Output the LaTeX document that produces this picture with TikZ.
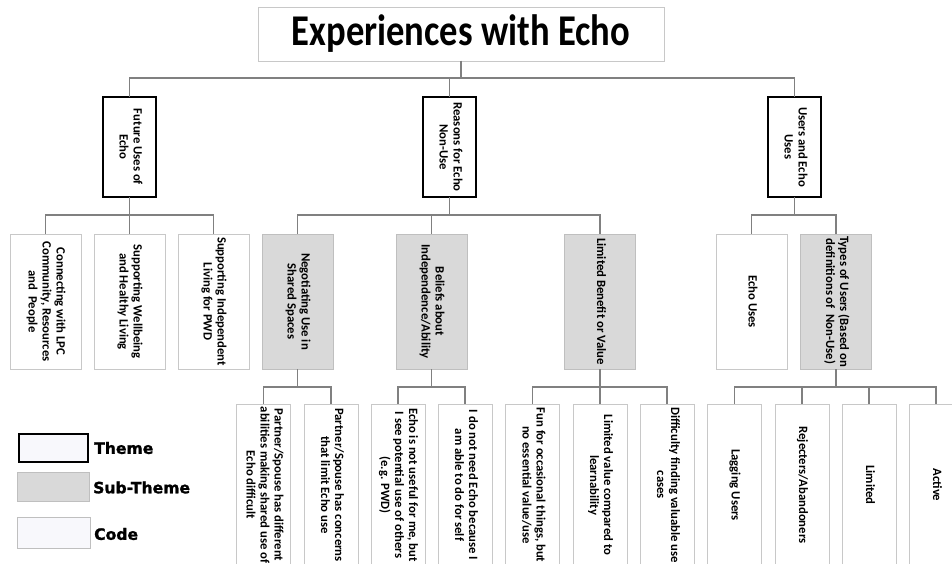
\documentclass[tikz,border=0pt]{standalone}
\usepackage{fontspec}
\setmainfont{Carlito}
\newfontfamily\legendfont{DejaVu Sans}[BoldFeatures={FakeBold=1.3}]
\usepackage{graphicx}
\definecolor{subfill}{HTML}{D9D9D9}
\definecolor{subline}{HTML}{BFBFBF}
\definecolor{codeline}{HTML}{C8C8C8}
\definecolor{linegray}{HTML}{808080}
\definecolor{legfill}{HTML}{F8F8FC}
\newcommand{\vtext}[1]{\rotatebox{-90}{\begin{tabular}{@{}c@{}}#1\end{tabular}}}
\tikzset{
  basebox/.style={draw, inner sep=0pt, outer sep=0pt, font=\bfseries\fontsize{12.7}{14}\selectfont},
  themebox/.style={basebox, draw=black, line width=2.5pt, fill=white},
  subbox/.style={basebox, draw=subline, line width=0.9pt, fill=subfill},
  codebox/.style={basebox, draw=codeline, line width=0.9pt, fill=white},
  lvlone/.style={minimum width=53pt, minimum height=100pt},
  lvltwo/.style={minimum width=71pt, minimum height=135pt},
  lvlthree/.style={minimum width=54pt, minimum height=162pt},
  conn/.style={draw=linegray, line width=1.1pt},
  legtext/.style={anchor=west, inner sep=0pt, font=\legendfont\bfseries\fontsize{15.6}{18}\selectfont}
}
\begin{document}
\begin{tikzpicture}[x=1pt,y=-1pt]
\path[use as bounding box, clip] (0,0) rectangle (952,564);
\fill[white] (0,0) rectangle (952,564);
% title
\node[basebox, draw=codeline, line width=0.9pt, fill=white, minimum width=406pt, minimum height=54pt] (title) at (461,34)
  {\scalebox{1}[1.2]{\fontsize{36.6}{40}\selectfont\bfseries Experiences with Echo}};
% themes
\node[themebox, lvlone] (F) at (129.5,147) {\vtext{Future Uses of\\Echo}};
\node[themebox, lvlone] (R) at (449.5,147) {\vtext{Reasons for Echo\\Non-Use}};
\node[themebox, lvlone] (U) at (794.5,147) {\vtext{Users and Echo\\Uses}};
% level two
\node[codebox, lvltwo] (c1) at (45.5,301.5) {\vtext{Connecting with LPC\\Community, Resources\\and\ \ People}};
\node[codebox, lvltwo] (c2) at (129.5,301.5) {\vtext{Supporting Wellbeing\\and Healthy Living}};
\node[codebox, lvltwo] (c3) at (213.5,301.5) {\vtext{Supporting Independent\\Living for PWD}};
\node[subbox, lvltwo] (s1) at (297.5,301.5) {\vtext{Negotiating Use in\\Shared Spaces}};
\node[subbox, lvltwo] (s2) at (431.5,301.5) {\vtext{Beliefs about\\Independence/Ability}};
\node[subbox, lvltwo] (s3) at (600,301.5) {\vtext{Limited Benefit or Value}};
\node[codebox, lvltwo] (c4) at (751.5,301.5) {\vtext{Echo Uses}};
\node[subbox, lvltwo] (s4) at (836,301.5) {\vtext{Types of Users (Based on\\definitions of\ \ Non-Use)}};
% level three
\node[codebox, lvlthree] (d1) at (263.5,485) {\vtext{Partner/Spouse has different\\abilities making shared use of\\Echo difficult}};
\node[codebox, lvlthree] (d2) at (331,485) {\vtext{Partner/Spouse has concerns\\that limit Echo use}};
\node[codebox, lvlthree] (d3) at (398,485) {\vtext{Echo is not useful for me, but\\I see potential use of others\\(e.g. PWD)}};
\node[codebox, lvlthree] (d4) at (465,485) {\vtext{I do not need Echo because I\\am able to do for self}};
\node[codebox, lvlthree] (d5) at (532.5,485) {\vtext{Fun for occasional things, but\\no essential value/use}};
\node[codebox, lvlthree] (d6) at (600,485) {\vtext{Limited value compared to\\learnability}};
\node[codebox, lvlthree] (d7) at (667,485) {\vtext{Difficulty finding valuable use\\cases}};
\node[codebox, lvlthree] (d8) at (734.5,485) {\vtext{Lagging Users}};
\node[codebox, lvlthree] (d9) at (802,485) {\vtext{Rejecters/Abandoners}};
\node[codebox, lvlthree] (d10) at (869,485) {\vtext{Limited}};
\node[codebox, lvlthree] (d11) at (936,485) {\vtext{Active}};
% connectors
\foreach \ch in {F,R,U} \draw[conn] (title.south) -- ++(0,17) -| (\ch.north);
\foreach \ch in {c1,c2,c3} \draw[conn] (F.south) -- ++(0,18) -| (\ch.north);
\foreach \ch in {s1,s2,s3} \draw[conn] (R.south) -- ++(0,18) -| (\ch.north);
\foreach \ch in {c4,s4} \draw[conn] (U.south) -- ++(0,18) -| (\ch.north);
\foreach \ch in {d1,d2} \draw[conn] (s1.south) -- ++(0,18) -| (\ch.north);
\foreach \ch in {d3,d4} \draw[conn] (s2.south) -- ++(0,18) -| (\ch.north);
\foreach \ch in {d5,d6,d7} \draw[conn] (s3.south) -- ++(0,18) -| (\ch.north);
\foreach \ch in {d8,d9,d10,d11} \draw[conn] (s4.south) -- ++(0,18) -| (\ch.north);
% legend
\node[draw=black, line width=2.5pt, fill=legfill, minimum width=69pt, minimum height=28pt, inner sep=0pt] (lt) at (53.5,448) {};
\node[draw=subline, line width=0.9pt, fill=subfill, minimum width=72pt, minimum height=29pt, inner sep=0pt] (ls) at (53,486.5) {};
\node[draw=subline, line width=0.9pt, fill=legfill, minimum width=73pt, minimum height=31pt, inner sep=0pt] (lc) at (53.5,532.5) {};
\node[legtext] (ltt) at (94,448) {Theme};
\node[legtext] (lst) at (93,487.5) {Sub-Theme};
\node[legtext] (lct) at (94,534) {Code};
\end{tikzpicture}
\end{document}
